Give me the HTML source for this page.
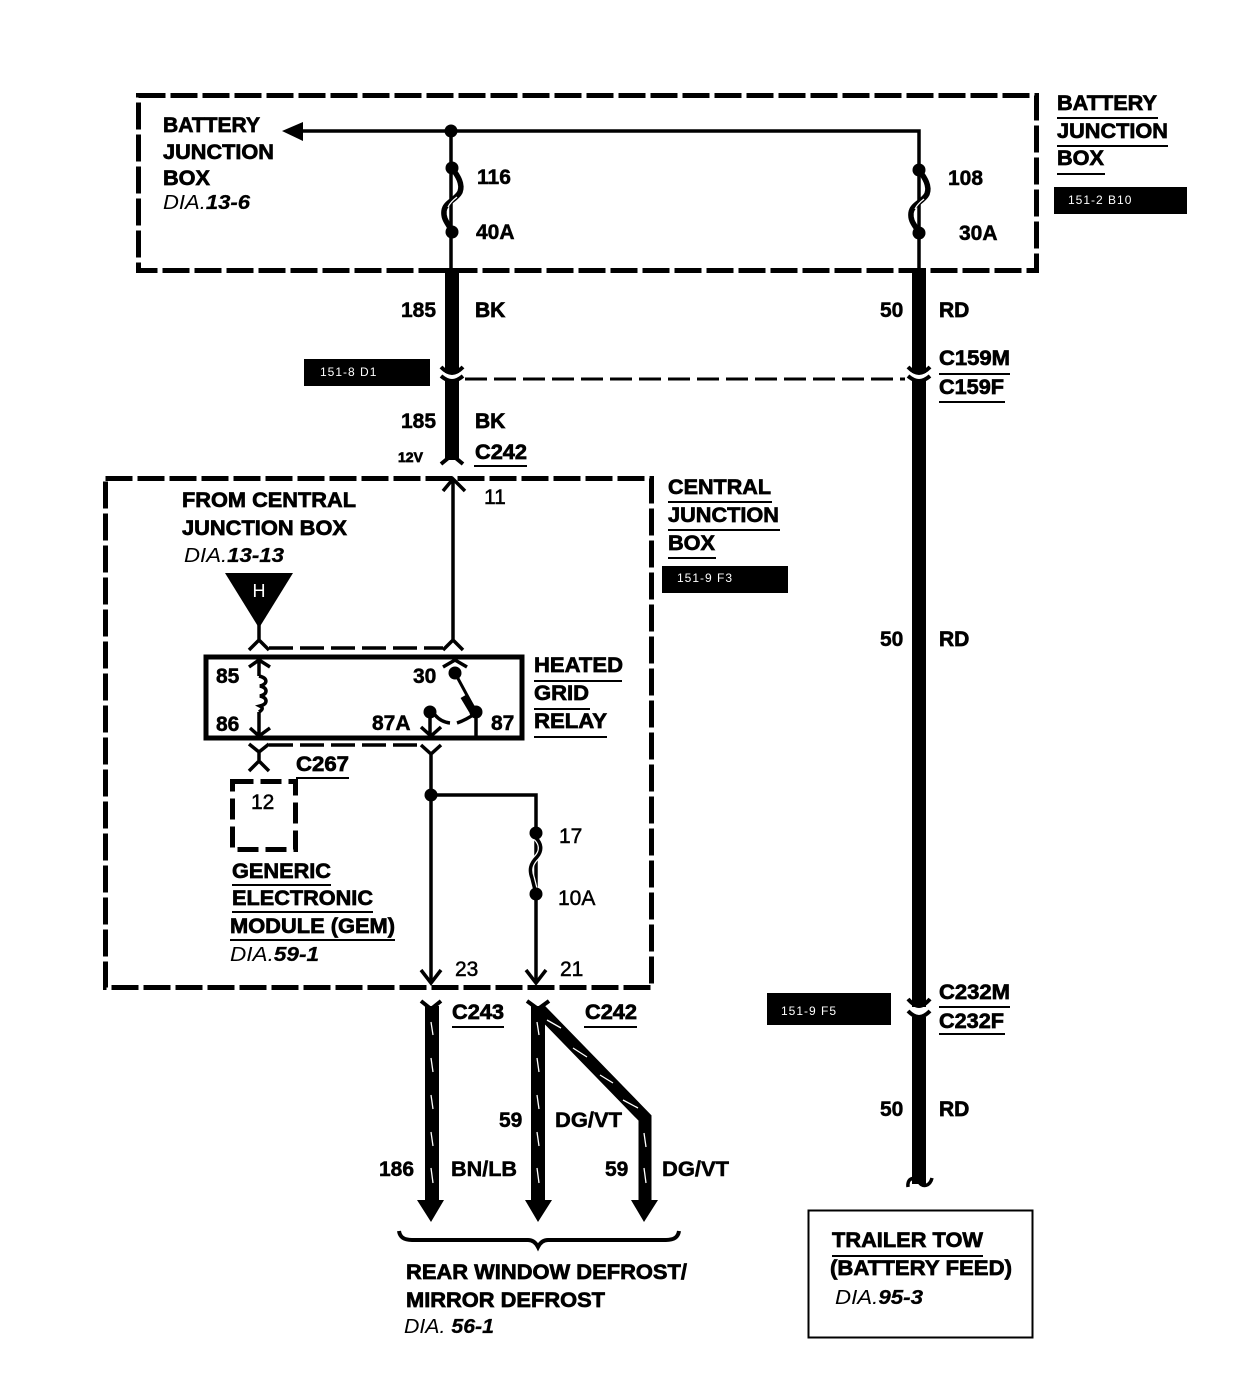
<!DOCTYPE html>
<html><head><meta charset="utf-8"><style>
html,body{margin:0;padding:0;background:#fff}
svg{display:block}
text{font-family:"Liberation Sans",sans-serif;fill:#000}
.b{font-weight:bold;font-size:21px;stroke:#000;stroke-width:.7px}
.n{font-weight:bold;font-size:21px;stroke:#000;stroke-width:.5px}
.r{font-size:21px;stroke:#000;stroke-width:.5px}
.i{font-style:italic;font-size:20px}
.i tspan{font-weight:bold;stroke:#000;stroke-width:.3px}
.w{font-size:12px;fill:#fff;letter-spacing:1px}
.l{stroke:#000;stroke-width:2;fill:none}
.t{stroke:#000;stroke-width:3.500;fill:none}
.d{stroke:#000;stroke-width:5;fill:none;stroke-dasharray:27 5}
.c{stroke:#000;stroke-width:3.500;fill:none}
.s{stroke:#fff;stroke-width:1.300;fill:none}
</style></head><body>
<svg width="1254" height="1376" viewBox="0 0 1254 1376" xmlns="http://www.w3.org/2000/svg">
<rect width="1254" height="1376" fill="#fff"/>
<rect x="138.500" y="95.500" width="898" height="175" class="d"/>
<rect x="105.500" y="478.500" width="546" height="509" class="d"/>
<rect x="232.500" y="781.500" width="63" height="68" class="d" style="stroke-dasharray:21 7"/>
<path d="M300 131H919V270M451 131V268" class="t"/>
<path d="M282 131L303 122V141Z"/>
<circle cx="451" cy="131" r="6.500"/><circle cx="452" cy="168" r="6.500"/><circle cx="452" cy="232" r="6.500"/><circle cx="919" cy="170" r="6.500"/><circle cx="919" cy="233" r="6.500"/>
<path d="M452 168C458 176 463 184 460 192C456 200 445 202 444 211C443 220 449 224 452 232" stroke="#000" stroke-width="5.500" fill="none"/>
<path d="M919 170C925 178 930 186 927 194C923 202 912 204 911 213C910 222 916 226 919 233" stroke="#000" stroke-width="5.500" fill="none"/>
<path d="M457 197C453 200 450 203 448 207M924 199C920 202 917 205 915 209" class="s"/>
<rect x="445" y="268" width="14" height="105"/><rect x="445" y="381" width="14" height="79"/>
<rect x="912" y="268" width="14" height="105"/><rect x="912" y="381" width="14" height="626"/><rect x="912" y="1017" width="14" height="167"/>
<path d="M441 367Q447 373 452 373Q457 373 463 367M441 376Q447 381 452 381Q457 381 463 376M908 367Q914 373 919 373Q924 373 930 367M908 376Q914 381 919 381Q924 381 930 376" class="c" style="stroke-width:4"/>
<path d="M908 999Q914 1006 919 1006Q924 1006 930 999M908 1011Q914 1017 919 1017Q924 1017 930 1011" class="c" style="stroke-width:4"/>
<path d="M465 379H905" class="t" style="stroke-dasharray:22 7;stroke-width:3"/>
<path d="M441 464L452 455L463 464" class="c" style="stroke-width:4"/>
<path d="M443 491L453 479L465 491M453 479V640M443 650L453 640L463 650M249 650L259 640L269 650M259 622V640" class="c"/>
<path d="M269 648H443" class="t" style="stroke-dasharray:24 7"/>
<path d="M225 573H293L259 628Z"/>
<rect x="206" y="657" width="316" height="81" stroke="#000" stroke-width="5" fill="none"/>
<path d="M249 667L259 660L270 667M259 660V676M259 712V736M250 728L259 736L270 728" class="c"/>
<path d="M259 676C268 678 268 684 260 686C268 688 268 694 260 696C268 698 268 704 260 706C264 708 262 710 259 712" class="c"/>
<path d="M443 667L455 660L467 667" class="c"/>
<circle cx="455" cy="673" r="6.500"/>
<path d="M455 673L476 712" stroke="#000" stroke-width="3" fill="none"/>
<path d="M464 696L473 711" stroke="#000" stroke-width="8" fill="none"/>
<circle cx="476" cy="712" r="6.500"/>
<path d="M476 712V738M476 713Q466 720 457 723M450 723Q441 722 435 715M430 712V736M421 727L431 736L441 727" class="c"/>
<circle cx="430" cy="712" r="6.500"/>
<path d="M249 744L259 752L269 744M259 752V760M249 771L259 761L269 771" class="c"/>
<path d="M269 745H421" class="t" style="stroke-dasharray:24 7"/>
<path d="M421 745L431 754L441 745M431 754V983M431 795H536V983" class="c"/>
<path d="M421 970L431 983L441 970M526 970L536 983L546 970" class="c"/>
<circle cx="431" cy="795" r="6.500"/>
<path d="M536 833V838C541 843 543 850 537 857C530 864 529 870 532 878L536 894" stroke="#fff" stroke-width="6" fill="none"/>
<path d="M536 838C541 843 543 850 537 857C530 864 529 870 532 878L536 894" stroke="#000" stroke-width="3.500" fill="none"/>
<circle cx="536" cy="833" r="6.500"/><circle cx="536" cy="894" r="6.500"/>
<path d="M421 1001L431 1009L441 1001M527 1001L538 1009L549 1001" class="c" style="stroke-width:4"/>
<rect x="425" y="1006" width="14" height="196"/><rect x="531" y="1006" width="14" height="196"/>
<path d="M538 1008L645 1118V1202" stroke="#000" stroke-width="13" fill="none" stroke-miterlimit="2"/>
<path d="M417 1200H444L431 1222ZM525 1200H552L538 1222ZM631 1200H658L644 1222Z"/>
<path d="M431 1022L433 1035M431 1058L433 1072M431 1095L433 1109M431 1132L433 1146M431 1168L433 1183M537 1022L539 1035M537 1058L539 1072M537 1095L539 1109M537 1132L539 1146M537 1168L539 1183M644 1133L646 1147M644 1168L646 1183M547 1020L561 1028M573 1048L587 1057M600 1075L613 1083M623 1100L638 1108" class="s"/>
<path d="M399 1231C400 1238 405 1240 412 1240H528C533 1240 536 1243 538 1247C540 1243 543 1240 548 1240H666C673 1240 678 1238 679 1231" stroke="#000" stroke-width="4" fill="none"/>
<path d="M908 1187C907 1178 914 1176 919 1182C923 1188 930 1186 932 1178" class="c"/>
<rect x="808.500" y="1210.500" width="224" height="127" stroke="#000" stroke-width="2" fill="none"/>
<rect x="1054" y="187" width="133" height="27"/><rect x="304" y="359" width="126" height="27"/><rect x="662" y="566" width="126" height="27"/><rect x="767" y="993" width="124" height="32"/>
<text x="1068" y="204" class="w">151-2 B10</text><text x="320" y="376" class="w">151-8 D1</text><text x="677" y="582" class="w">151-9 F3</text><text x="781" y="1015" class="w">151-9 F5</text>
<text x="259" y="597" font-size="18" text-anchor="middle" style="fill:#fff">H</text>
<path d="M1057 118H1158M1057 146H1168M1057 174H1105M939 374H1010M939 402H1005M474 466H527M668 502H772M668 530H780M668 558H716M534 681H622M534 709H590M534 737H607M296 778H349M232 885H331M232 912H373M230 940H395M452 1027H504M584 1027H637M939 1007H1010M939 1034H1005M832 1256H983" class="l"/>
<text x="163" y="132" class="b" textLength="97" lengthAdjust="spacingAndGlyphs">BATTERY</text>
<text x="163" y="159" class="b" textLength="111" lengthAdjust="spacingAndGlyphs">JUNCTION</text>
<text x="163" y="185" class="b" textLength="47" lengthAdjust="spacingAndGlyphs">BOX</text>
<text x="163" y="209" class="i" textLength="87" lengthAdjust="spacingAndGlyphs">DIA.<tspan>13-6</tspan></text>
<text x="477" y="184" class="n">116</text><text x="476" y="239" class="n">40A</text>
<text x="948" y="185" class="n">108</text><text x="959" y="240" class="n">30A</text>
<text x="1057" y="110" class="b" textLength="100" lengthAdjust="spacingAndGlyphs">BATTERY</text>
<text x="1057" y="138" class="b" textLength="111" lengthAdjust="spacingAndGlyphs">JUNCTION</text>
<text x="1057" y="165" class="b" textLength="47" lengthAdjust="spacingAndGlyphs">BOX</text>
<text x="401" y="317" class="n">185</text><text x="475" y="317" class="b">BK</text>
<text x="880" y="317" class="n">50</text><text x="939" y="317" class="b">RD</text>
<text x="939" y="365" class="b" textLength="71" lengthAdjust="spacingAndGlyphs">C159M</text>
<text x="939" y="394" class="b" textLength="65" lengthAdjust="spacingAndGlyphs">C159F</text>
<text x="401" y="428" class="n">185</text><text x="475" y="428" class="b">BK</text>
<text x="398" y="462" class="b" style="font-size:14px">12V</text>
<text x="475" y="459" class="b" textLength="52" lengthAdjust="spacingAndGlyphs">C242</text>
<text x="484" y="504" class="r">11</text>
<text x="182" y="507" class="b" textLength="174" lengthAdjust="spacingAndGlyphs">FROM CENTRAL</text>
<text x="182" y="535" class="b" textLength="165" lengthAdjust="spacingAndGlyphs">JUNCTION BOX</text>
<text x="184" y="562" class="i" textLength="100" lengthAdjust="spacingAndGlyphs">DIA.<tspan>13-13</tspan></text>
<text x="668" y="494" class="b" textLength="103" lengthAdjust="spacingAndGlyphs">CENTRAL</text>
<text x="668" y="522" class="b" textLength="111" lengthAdjust="spacingAndGlyphs">JUNCTION</text>
<text x="668" y="550" class="b" textLength="47" lengthAdjust="spacingAndGlyphs">BOX</text>
<text x="216" y="683" class="n">85</text><text x="216" y="731" class="n">86</text>
<text x="413" y="683" class="n">30</text><text x="372" y="730" class="n">87A</text><text x="491" y="730" class="n">87</text>
<text x="534" y="672" class="b" textLength="89" lengthAdjust="spacingAndGlyphs">HEATED</text>
<text x="534" y="700" class="b" textLength="55" lengthAdjust="spacingAndGlyphs">GRID</text>
<text x="534" y="728" class="b" textLength="73" lengthAdjust="spacingAndGlyphs">RELAY</text>
<text x="296" y="771" class="b" textLength="53" lengthAdjust="spacingAndGlyphs">C267</text>
<text x="251" y="809" class="r">12</text>
<text x="559" y="843" class="r">17</text><text x="558" y="905" class="r">10A</text>
<text x="232" y="878" class="b" textLength="99" lengthAdjust="spacingAndGlyphs">GENERIC</text>
<text x="232" y="905" class="b" textLength="141" lengthAdjust="spacingAndGlyphs">ELECTRONIC</text>
<text x="230" y="933" class="b" textLength="165" lengthAdjust="spacingAndGlyphs">MODULE (GEM)</text>
<text x="230" y="961" class="i" textLength="89" lengthAdjust="spacingAndGlyphs">DIA.<tspan>59-1</tspan></text>
<text x="455" y="976" class="r">23</text><text x="560" y="976" class="r">21</text>
<text x="452" y="1019" class="b" textLength="52" lengthAdjust="spacingAndGlyphs">C243</text>
<text x="585" y="1019" class="b" textLength="52" lengthAdjust="spacingAndGlyphs">C242</text>
<text x="499" y="1127" class="n">59</text><text x="555" y="1127" class="n" textLength="67" lengthAdjust="spacingAndGlyphs">DG/VT</text>
<text x="379" y="1176" class="n">186</text><text x="451" y="1176" class="n" textLength="66" lengthAdjust="spacingAndGlyphs">BN/LB</text>
<text x="605" y="1176" class="n">59</text><text x="662" y="1176" class="n" textLength="67" lengthAdjust="spacingAndGlyphs">DG/VT</text>
<text x="880" y="646" class="n">50</text><text x="939" y="646" class="b">RD</text>
<text x="939" y="999" class="b" textLength="71" lengthAdjust="spacingAndGlyphs">C232M</text>
<text x="939" y="1028" class="b" textLength="65" lengthAdjust="spacingAndGlyphs">C232F</text>
<text x="880" y="1116" class="n">50</text><text x="939" y="1116" class="b">RD</text>
<text x="406" y="1279" class="b" textLength="281" lengthAdjust="spacingAndGlyphs">REAR WINDOW DEFROST/</text>
<text x="406" y="1307" class="b" textLength="199" lengthAdjust="spacingAndGlyphs">MIRROR DEFROST</text>
<text x="404" y="1333" class="i" textLength="90" lengthAdjust="spacingAndGlyphs">DIA. <tspan>56-1</tspan></text>
<text x="832" y="1247" class="b" textLength="151" lengthAdjust="spacingAndGlyphs">TRAILER TOW</text>
<text x="830" y="1275" class="b" textLength="182" lengthAdjust="spacingAndGlyphs">(BATTERY FEED)</text>
<text x="835" y="1304" class="i" textLength="88" lengthAdjust="spacingAndGlyphs">DIA.<tspan>95-3</tspan></text>
</svg>
</body></html>
